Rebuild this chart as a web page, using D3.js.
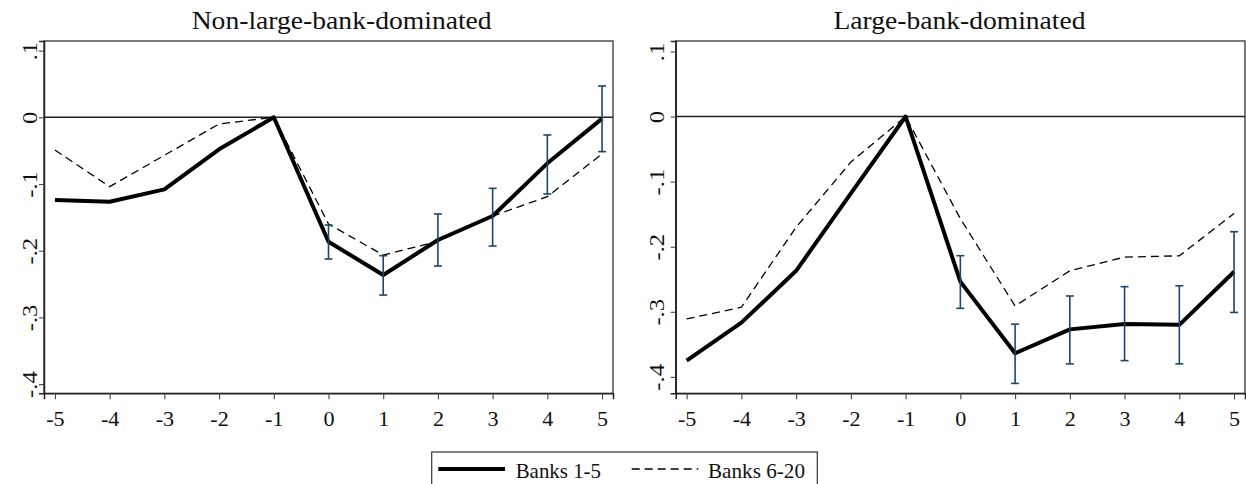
<!DOCTYPE html>
<html>
<head>
<meta charset="utf-8">
<script src="https://cdn.jsdelivr.net/npm/d3@7"></script>
<style>
  html, body { margin: 0; padding: 0; background: #fff; }
  svg { display: block; font-family: "Liberation Serif", "Times New Roman", serif; }
</style>
</head>
<body>
<svg id="chart" width="1246" height="484"></svg>
<script>
// ---- data ----
const periods = [-5, -4, -3, -2, -1, 0, 1, 2, 3, 4, 5];
const xTickLabels = ["-5", "-4", "-3", "-2", "-1", "0", "1", "2", "3", "4", "5"];
const yTicks = [0.1, 0, -0.1, -0.2, -0.3, -0.4];
const yTickLabels = [".1", "0", "-.1", "-.2", "-.3", "-.4"];
const panelTitles = ["Non-large-bank-dominated", "Large-bank-dominated"];
const seriesNames = ["Banks 1-5", "Banks 6-20"];

// Non-large-bank-dominated
const nlBanks1to5  = [-0.124, -0.1265, -0.108, -0.048, 0, -0.1865, -0.2365, -0.184, -0.148, -0.069, -0.002];
const nlBanks6to20 = [-0.049, -0.104, -0.057, -0.010, 0, -0.160, -0.2065, -0.186, -0.148, -0.119, -0.055];
const nlCiPeriods  = [0, 1, 2, 3, 4, 5];
const nlCiUpper    = [-0.1615, -0.2075, -0.145, -0.1065, -0.0265, 0.047];
const nlCiLower    = [-0.2125, -0.2665, -0.223, -0.193, -0.115, -0.0515];

// Large-bank-dominated
const lgBanks1to5  = [-0.375, -0.3167, -0.237, -0.118, 0, -0.2537, -0.3638, -0.327, -0.3187, -0.320, -0.2384];
const lgBanks6to20 = [-0.311, -0.293, -0.170, -0.070, 0, -0.157, -0.291, -0.237, -0.216, -0.214, -0.149];
const lgCiPeriods  = [0, 1, 2, 3, 4, 5];
const lgCiUpper    = [-0.2138, -0.319, -0.2757, -0.2614, -0.260, -0.177];
const lgCiLower    = [-0.2947, -0.410, -0.380, -0.375, -0.380, -0.301];

// ---- layout ----
const svg = d3.select("#chart");
const ciColor = "#1a476f";
const serif = "Liberation Serif, Times New Roman, serif";

const panels = [
  { title: panelTitles[0], s1: nlBanks1to5, s2: nlBanks6to20, ciP: nlCiPeriods, ciU: nlCiUpper, ciL: nlCiLower,
    left: 44, right: 613, top: 41, bottom: 393.3, yDom: [0.1144, -0.4138], yLabX: 36.5, titleX: 341.7, titleW: 300 },
  { title: panelTitles[1], s1: lgBanks1to5, s2: lgBanks6to20, ciP: lgCiPeriods, ciU: lgCiUpper, ciL: lgCiLower,
    left: 675.7, right: 1245, top: 41, bottom: 393.3, yDom: [0.116, -0.4252], yLabX: 663.5, titleX: 959.5, titleW: 252 }
];

panels.forEach(p => {
  const x = d3.scaleLinear().domain([-5.2, 5.2]).range([p.left, p.right]);
  const y = d3.scaleLinear().domain(p.yDom).range([p.top, p.bottom]);
  const g = svg.append("g");

  // frame
  g.append("rect")
    .attr("x", p.left).attr("y", p.top)
    .attr("width", p.right - p.left).attr("height", p.bottom - p.top)
    .attr("fill", "none").attr("stroke", "#333").attr("stroke-width", 1.3);

  // title
  g.append("text")
    .attr("x", p.titleX).attr("y", 28.5)
    .attr("text-anchor", "middle")
    .attr("font-family", serif)
    .attr("font-size", 26)
    .attr("textLength", p.titleW).attr("lengthAdjust", "spacingAndGlyphs")
    .attr("fill", "#111")
    .text(p.title);

  // x axis
  const xAxis = d3.axisBottom(x).tickValues(periods)
    .tickFormat((d, i) => xTickLabels[i]).tickSize(6).tickPadding(0);
  const gx = g.append("g").attr("transform", `translate(0,${p.bottom})`).call(xAxis);
  gx.attr("font-family", serif).attr("font-size", 20.5);
  gx.select(".domain").attr("stroke", "#222").attr("stroke-width", 1.5);
  gx.selectAll(".tick line").attr("stroke", "#444").attr("stroke-width", 1.1);
  gx.selectAll(".tick text")
    .attr("fill", "#111")
    .attr("dy", null).attr("y", 32.7)
    .attr("transform", "scale(1.08,1)");

  // y axis
  const yAxis = d3.axisLeft(y).tickValues(yTicks)
    .tickFormat((d, i) => yTickLabels[i]).tickSize(5);
  const gy = g.append("g").attr("transform", `translate(${p.left},0)`).call(yAxis);
  gy.attr("font-family", serif).attr("font-size", 20.5);
  gy.select(".domain").attr("stroke", "#222").attr("stroke-width", 1.5);
  gy.selectAll(".tick line").attr("stroke", "#444").attr("stroke-width", 1.1);
  gy.selectAll(".tick text")
    .attr("fill", "#111")
    .attr("x", null).attr("dy", null)
    .attr("text-anchor", "middle")
    .attr("transform", `translate(${p.yLabX - p.left},0) rotate(-90) scale(1.2,1)`);

  // zero line
  g.append("line")
    .attr("x1", p.left).attr("x2", p.right)
    .attr("y1", y(0)).attr("y2", y(0))
    .attr("stroke", "#222").attr("stroke-width", 1.5);

  const line = d3.line().x((d, i) => x(periods[i])).y(d => y(d));

  // dashed series
  g.append("path").datum(p.s2)
    .attr("d", line).attr("fill", "none")
    .attr("stroke", "#000").attr("stroke-width", 1.3)
    .attr("stroke-dasharray", "8,5");

  // solid series
  g.append("path").datum(p.s1)
    .attr("d", line).attr("fill", "none")
    .attr("stroke", "#000").attr("stroke-width", 4)
    .attr("stroke-linejoin", "round");

  // CI bars
  const ci = g.append("g").attr("stroke", ciColor).attr("stroke-width", 1.6).attr("fill", "none");
  p.ciP.forEach((t, i) => {
    const cx = x(t);
    ci.append("line").attr("x1", cx).attr("x2", cx).attr("y1", y(p.ciU[i])).attr("y2", y(p.ciL[i]));
    ci.append("line").attr("x1", cx - 4).attr("x2", cx + 4).attr("y1", y(p.ciU[i])).attr("y2", y(p.ciU[i]));
    ci.append("line").attr("x1", cx - 4).attr("x2", cx + 4).attr("y1", y(p.ciL[i])).attr("y2", y(p.ciL[i]));
  });
});

// legend
const lg = svg.append("g").attr("font-family", serif);
lg.append("rect")
  .attr("x", 431.7).attr("y", 452).attr("width", 385.6).attr("height", 45)
  .attr("fill", "#fff").attr("stroke", "#333").attr("stroke-width", 1.2);
lg.append("line").attr("x1", 438.3).attr("x2", 505).attr("y1", 469).attr("y2", 469)
  .attr("stroke", "#000").attr("stroke-width", 4);
lg.append("text").attr("x", 515.7).attr("y", 478.3).attr("font-size", 22)
  .attr("textLength", 85.3).attr("lengthAdjust", "spacingAndGlyphs").attr("fill", "#111")
  .text(seriesNames[0]);
lg.append("line").attr("x1", 631.7).attr("x2", 698.3).attr("y1", 469).attr("y2", 469)
  .attr("stroke", "#000").attr("stroke-width", 1.3).attr("stroke-dasharray", "8,5");
lg.append("text").attr("x", 708).attr("y", 478.3).attr("font-size", 22)
  .attr("textLength", 97).attr("lengthAdjust", "spacingAndGlyphs").attr("fill", "#111")
  .text(seriesNames[1]);
</script>
</body>
</html>
